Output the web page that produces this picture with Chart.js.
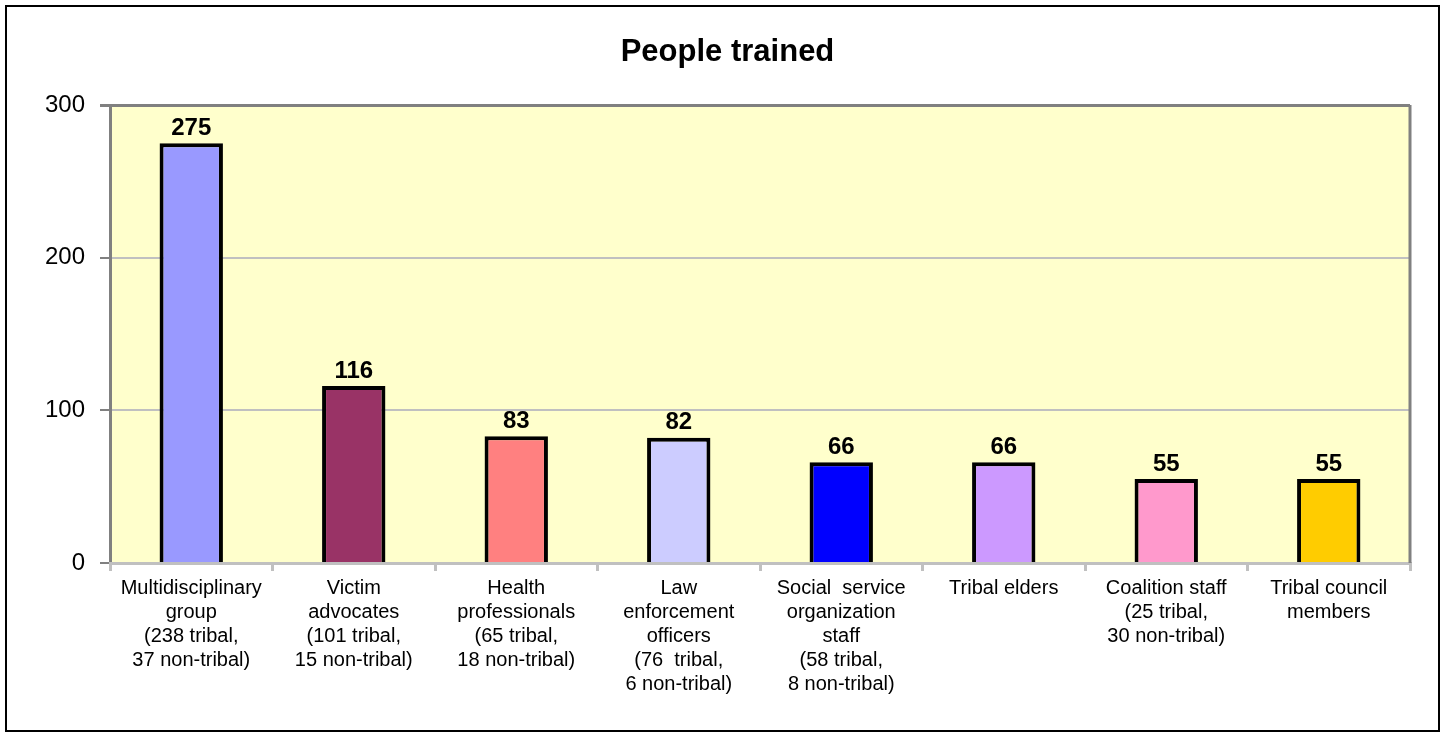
<!DOCTYPE html>
<html>
<head>
<meta charset="utf-8">
<script src="https://cdn.jsdelivr.net/npm/chart.js@4/dist/chart.umd.min.js"></script>
<style>
  html, body { margin: 0; padding: 0; background: #fff; }
  #frame {
    position: absolute; left: 5px; top: 5px;
    width: 1431px; height: 723px;
    border: 2px solid #000;
  }
  canvas { display: block; }
</style>
</head>
<body>
<div id="frame"><canvas id="chart" width="1431" height="723"></canvas></div>
<script>
const chartTitle = 'People trained';
const categories = [
    ['Multidisciplinary', 'group', '(238 tribal,', '37 non-tribal)'],
    ['Victim', 'advocates', '(101 tribal,', '15 non-tribal)'],
    ['Health', 'professionals', '(65 tribal,', '18 non-tribal)'],
    ['Law', 'enforcement', 'officers', '(76  tribal,', '6 non-tribal)'],
    ['Social  service', 'organization', 'staff', '(58 tribal,', '8 non-tribal)'],
    ['Tribal elders'],
    ['Coalition staff', '(25 tribal,', '30 non-tribal)'],
    ['Tribal council', 'members']
];
const peopleTrained = [275, 116, 83, 82, 66, 66, 55, 55];
const barColors = ['#9999FF', '#993366', '#FF8080', '#CCCCFF', '#0000FF', '#CC99FF', '#FF99CC', '#FFCC00'];
const yTicks = [0, 100, 200, 300];

const FONT = '"Liberation Sans", Arial, sans-serif';

// yellow plot background, right border and the title
const plotArea = {
    id: 'plotArea',
    beforeDraw(chart) {
        const { ctx, chartArea: a } = chart;
        ctx.save();
        ctx.fillStyle = '#FFFFCC';
        ctx.fillRect(a.left, a.top, a.right - a.left, a.bottom - a.top);
        ctx.font = 'bold 31px ' + FONT;
        ctx.fillStyle = '#000';
        ctx.textAlign = 'center';
        ctx.textBaseline = 'middle';
        ctx.fillText(chartTitle, chart.width / 2 + 5, 45);
        ctx.restore();
    },
    afterDraw(chart) {
        const { ctx, chartArea: a } = chart;
        ctx.save();
        ctx.strokeStyle = '#808080';
        ctx.lineWidth = 3;
        ctx.beginPath();
        ctx.moveTo(a.right, a.top);
        ctx.lineTo(a.right, a.bottom);
        ctx.stroke();
        ctx.restore();
    }
};

// value labels above bars
const valueLabels = {
    id: 'valueLabels',
    afterDatasetsDraw(chart) {
        const { ctx } = chart;
        const meta = chart.getDatasetMeta(0);
        ctx.save();
        ctx.font = 'bold 24px ' + FONT;
        ctx.fillStyle = '#000';
        ctx.textAlign = 'center';
        ctx.textBaseline = 'bottom';
        meta.data.forEach((bar, i) => {
            ctx.fillText(String(peopleTrained[i]), bar.x, bar.y - 3);
        });
        ctx.restore();
    }
};

const ctx = document.getElementById('chart').getContext('2d');
new Chart(ctx, {
    type: 'bar',
    data: {
        labels: categories,
        datasets: [{
            data: peopleTrained,
            backgroundColor: barColors,
            borderColor: '#000',
            borderWidth: 4,
            barPercentage: 0.39,
            categoryPercentage: 1
        }]
    },
    options: {
        responsive: false,
        animation: false,
        layout: { padding: { left: 0, right: 28, top: 98, bottom: 0 } },
        plugins: {
            legend: { display: false },
            tooltip: { enabled: false },
            title: { display: false }
        },
        scales: {
            y: {
                min: 0,
                max: 300,
                afterFit(scale) { scale.width = 103; },
                afterBuildTicks(scale) { scale.ticks = yTicks.map(v => ({ value: v })); },
                ticks: {
                    color: '#000',
                    padding: 15,
                    font: { family: FONT, size: 24 }
                },
                grid: {
                    color: c => (c.tick && c.tick.value === 300) ? '#808080' : '#C0C0C0',
                    lineWidth: c => (c.tick && c.tick.value === 300) ? 3 : 2,
                    tickColor: '#808080',
                    tickLength: 10
                },
                border: { color: '#808080', width: 3 }
            },
            x: {
                afterFit(scale) { scale.height = 167; },
                ticks: {
                    color: '#000',
                    padding: 5,
                    maxRotation: 0,
                    autoSkip: false,
                    font: { family: FONT, size: 20, lineHeight: 1.2 }
                },
                grid: {
                    offset: true,
                    drawOnChartArea: false,
                    color: '#C0C0C0',
                    tickColor: '#C0C0C0',
                    lineWidth: 3,
                    tickLength: 8
                },
                border: { color: '#C0C0C0', width: 3 }
            }
        }
    },
    plugins: [plotArea, valueLabels]
});
</script>
</body>
</html>
